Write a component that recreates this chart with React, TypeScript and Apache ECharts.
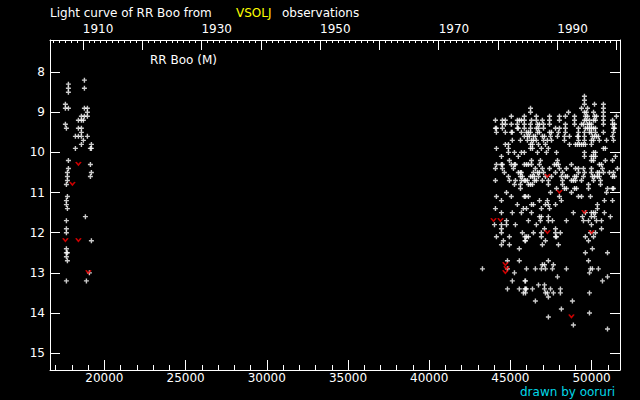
import React, { useEffect, useRef } from "react";
import * as echarts from "echarts";

// ---- axis ranges & ticks (JD - 2400000, magnitude) ----
const X_MIN = 16650;
const X_MAX = 51750;
const Y_MIN = 7.2;
const Y_MAX = 15.42;
const jdMajorTicks = [20000, 25000, 30000, 35000, 40000, 45000, 50000];
const jdMinorTicks = [17000, 18000, 19000, 21000, 22000, 23000, 24000, 26000, 27000, 28000, 29000, 31000, 32000, 33000, 34000, 36000, 37000, 38000, 39000, 41000, 42000, 43000, 44000, 46000, 47000, 48000, 49000, 51000];
const yearMajorTicks = [1910, 1920, 1930, 1940, 1950, 1960, 1970, 1980, 1990, 2000];
const yearLabels = [1910, 1930, 1950, 1970, 1990];
const magTicks = [8, 9, 10, 11, 12, 13, 14, 15];

// ---- observations: early visual estimates [JD-2400000, mag] ----
const earlyObs: number[][] = [
  [18769, 8.2], [17783, 8.3], [17783, 8.4], [17783, 8.5], [18769, 8.4], [17598, 8.8], [17598, 8.9], [17783, 8.9],
  [18769, 8.9], [18953, 8.9], [18953, 9.0], [18584, 9.1], [18769, 9.1], [18953, 9.1], [18399, 9.2], [18584, 9.2],
  [18707, 9.2], [17598, 9.3], [17660, 9.4], [18399, 9.4], [18584, 9.4], [18584, 9.5], [18214, 9.6], [18399, 9.6],
  [18584, 9.6], [18953, 9.6], [18707, 9.7], [19199, 9.8], [18584, 9.8], [18214, 9.9], [19137, 9.9], [19199, 9.9],
  [17783, 10.2], [19138, 10.3], [17783, 10.4], [19199, 10.5], [17722, 10.5], [17722, 10.6], [19138, 10.6], [17722, 10.7],
  [17660, 10.8], [17722, 11.1], [17660, 11.2], [17660, 11.3], [17722, 11.4], [18830, 11.6], [17660, 11.7], [17660, 11.9],
  [17660, 12.0], [19199, 12.2], [17660, 12.4], [17660, 12.5], [17722, 12.5], [17660, 12.6], [17722, 12.7], [19076, 13.0],
  [17660, 13.2], [18892, 13.2],
];

// ---- observations: recent visual estimates [JD-2400000, mag] ----
const recentObs: number[][] = [
  [45060, 9.1], [45860, 9.1], [44080, 9.2], [44510, 9.2], [44690, 9.2], [45430, 9.2], [45550, 9.2], [45680, 9.2], [45860, 9.2],
  [44510, 9.3], [44690, 9.3], [45060, 9.3], [45430, 9.3], [45860, 9.3], [44080, 9.4], [44140, 9.4], [44510, 9.4], [45430, 9.4],
  [45490, 9.4], [45860, 9.4], [44140, 9.5], [44690, 9.5], [45060, 9.5], [45120, 9.5], [45680, 9.5], [45860, 9.6], [45120, 9.7],
  [45620, 9.7], [44690, 9.8], [44880, 9.8], [44140, 9.9], [44880, 9.9], [44880, 10.0], [45250, 10.0], [45680, 10.0], [45860, 10.0],
  [44450, 10.1], [45490, 10.1], [44940, 10.2], [44140, 10.3], [44450, 10.3], [44510, 10.3], [45060, 10.3], [45250, 10.3],
  [45310, 10.3], [45860, 10.3], [44080, 10.4], [44510, 10.4], [45190, 10.4], [44630, 10.5], [45490, 10.5], [45620, 10.5],
  [45680, 10.5], [44880, 10.6], [45620, 10.6], [45740, 10.6], [44080, 10.7], [44940, 10.7], [45310, 10.7], [45680, 10.7],
  [45860, 10.7], [45250, 10.8], [45620, 10.8], [45620, 10.9], [44760, 11.0], [44140, 11.1], [45060, 11.1], [45860, 11.1],
  [44450, 11.2], [45430, 11.3],
  [46240, 8.9], [46240, 9.0], [48580, 9.0],
  [46600, 9.1], [47410, 9.1], [48020, 9.1], [48390, 9.1],
  [46300, 9.2], [46600, 9.2], [46970, 9.2], [47410, 9.2], [48020, 9.2],
  [46240, 9.3], [46670, 9.3], [46790, 9.3], [47040, 9.3], [47410, 9.3], [48390, 9.3],
  [46240, 9.4], [46600, 9.4], [46730, 9.4], [47040, 9.4], [47780, 9.4], [48020, 9.4], [48390, 9.4],
  [45990, 9.5], [46110, 9.5], [46240, 9.5], [46670, 9.5], [46790, 9.5], [47410, 9.5], [47530, 9.5], [47960, 9.5], [48390, 9.5],
  [46050, 9.6], [46170, 9.6], [46420, 9.6], [46540, 9.6], [46970, 9.6], [47100, 9.6], [47470, 9.6], [47900, 9.6], [48330, 9.6], [48640, 9.6],
  [46050, 9.7], [46300, 9.7], [46420, 9.7], [46600, 9.7], [47040, 9.7], [47280, 9.7], [47530, 9.7], [48330, 9.7],
  [46240, 9.8], [46360, 9.8], [46730, 9.8], [47160, 9.8], [48640, 9.8],
  [46240, 9.9], [46360, 9.9], [46910, 9.9], [47340, 9.9],
  [46670, 10.0], [47220, 10.0], [47840, 10.0],
  [46300, 10.2], [46850, 10.2], [47900, 10.2],
  [45990, 10.3], [46110, 10.3], [46300, 10.3], [46790, 10.3], [47710, 10.3], [47840, 10.3], [47960, 10.3], [48760, 10.3],
  [46540, 10.4], [46970, 10.4], [47410, 10.4], [48020, 10.4], [48450, 10.4],
  [46420, 10.5], [46670, 10.5], [46790, 10.5], [47040, 10.5], [47780, 10.5], [48210, 10.5],
  [46240, 10.6], [46360, 10.6], [46480, 10.6], [46730, 10.6], [47160, 10.6], [47530, 10.6], [48140, 10.6], [48390, 10.6], [48510, 10.6],
  [45930, 10.7], [46050, 10.7], [46480, 10.7], [46600, 10.7], [46970, 10.7], [47340, 10.7], [48210, 10.7], [48760, 10.7],
  [46110, 10.8], [46240, 10.8], [46360, 10.8], [47340, 10.8], [48210, 10.8],
  [47840, 10.9], [48330, 10.9], [48450, 10.9],
  [47470, 11.0], [48760, 11.0],
  [45930, 11.1], [46110, 11.1], [48020, 11.1],
  [46790, 11.2], [47280, 11.2], [48140, 11.2],
  [46300, 11.3], [46420, 11.3], [47160, 11.3], [47340, 11.3], [47780, 11.3],
  [49560, 8.6], [49560, 8.7], [49560, 8.8], [50180, 8.8], [50730, 8.8],
  [49380, 8.9], [49750, 8.9], [50730, 8.9],
  [49560, 9.0], [49680, 9.0], [50120, 9.0], [50730, 9.0],
  [48950, 9.1], [49620, 9.1], [49750, 9.1], [50180, 9.1], [50300, 9.1], [50730, 9.1], [51530, 9.1],
  [48950, 9.2], [49560, 9.2], [49680, 9.2], [49870, 9.2], [50120, 9.2], [50240, 9.2], [50730, 9.2], [51290, 9.2],
  [48950, 9.3], [49380, 9.3], [49500, 9.3], [49750, 9.3], [49870, 9.3], [49990, 9.3], [50730, 9.3], [51290, 9.3], [51410, 9.3],
  [49190, 9.4], [49620, 9.4], [49750, 9.4], [49870, 9.4], [49990, 9.4], [50120, 9.4], [50240, 9.4], [51350, 9.4], [51410, 9.4],
  [49190, 9.5], [49560, 9.5], [49870, 9.5], [49990, 9.5], [50240, 9.5], [50730, 9.5], [51350, 9.5],
  [49130, 9.6], [49190, 9.6], [49560, 9.6], [50050, 9.6], [50180, 9.6], [50300, 9.6], [50420, 9.6], [51290, 9.6],
  [49190, 9.7], [49560, 9.7], [49990, 9.7], [50120, 9.7], [50480, 9.7], [50920, 9.7], [51350, 9.7],
  [49010, 9.8], [49130, 9.8], [49250, 9.8], [49380, 9.8], [49500, 9.8], [49620, 9.8], [49990, 9.8],
  [50730, 9.9], [50850, 9.9],
  [49560, 10.0], [50120, 10.0], [50240, 10.0],
  [49560, 10.1], [49990, 10.1], [50120, 10.1], [50240, 10.1], [51470, 10.1],
  [49990, 10.2], [50120, 10.2], [50850, 10.2], [51290, 10.2],
  [50480, 10.3], [50610, 10.3],
  [49010, 10.4], [49190, 10.4], [49500, 10.4], [49990, 10.4], [50670, 10.4], [51590, 10.4],
  [49190, 10.5], [49560, 10.5], [49990, 10.5], [50360, 10.5], [50480, 10.5], [50730, 10.5], [51100, 10.5], [51350, 10.5],
  [48950, 10.6], [49070, 10.6], [49500, 10.6], [50050, 10.6], [50180, 10.6], [50360, 10.6], [50480, 10.6], [51290, 10.6], [51410, 10.6],
  [48880, 10.7], [49010, 10.7], [49380, 10.7], [50120, 10.7], [50550, 10.7],
  [49810, 10.8], [50550, 10.8],
  [48950, 10.9], [49070, 10.9], [49810, 10.9], [50980, 10.9], [51290, 10.9], [51350, 10.9],
  [50920, 11.0], [49190, 11.1], [49380, 11.1], [49930, 11.1], [50790, 11.2], [51290, 11.2], [50360, 11.3],
  [44080, 11.4], [45800, 11.4], [44450, 11.5], [45120, 11.5], [45680, 11.5], [44760, 11.7], [44020, 11.8], [44450, 11.8],
  [44760, 11.8], [45310, 11.8], [44450, 11.9], [44450, 12.0], [45740, 12.0], [44140, 12.1], [44940, 12.1], [45900, 12.1],
  [44570, 12.2], [45900, 12.2], [44450, 12.3], [44940, 12.3], [45550, 12.4], [44820, 12.7], [45550, 12.7], [44820, 12.9],
  [43280, 12.9], [45250, 13.0], [45120, 13.2], [45900, 13.2], [44820, 13.4], [45550, 13.4], [45900, 13.4], [45800, 13.5],
  [45990, 11.4], [46910, 11.4], [47410, 11.4], [46300, 11.5], [48880, 11.5], [46790, 11.6], [46910, 11.6], [47340, 11.6],
  [46110, 11.7], [46850, 11.7], [47340, 11.7], [47590, 11.7], [48450, 11.7], [46600, 11.8], [47100, 11.9], [47780, 11.9],
  [46420, 12.0], [46910, 12.0], [47780, 12.0], [48080, 12.0], [45990, 12.1], [46110, 12.1], [46910, 12.1], [47780, 12.1],
  [47840, 12.1], [45930, 12.2], [47160, 12.2], [46970, 12.3], [47960, 12.3], [47340, 12.7], [46970, 12.8], [47100, 12.8],
  [47650, 12.8], [45990, 12.9], [46540, 12.9], [46910, 12.9], [47160, 12.9], [47590, 12.9], [48450, 12.9], [47900, 13.1],
  [45930, 13.2], [46730, 13.3], [47100, 13.3], [45930, 13.4], [45990, 13.4], [46360, 13.4], [47100, 13.4], [47470, 13.4],
  [48080, 13.4], [45930, 13.5], [47160, 13.5], [47280, 13.5], [47650, 13.5], [48080, 13.5], [47340, 13.6], [46540, 13.7],
  [48820, 13.7], [48140, 13.9], [47340, 14.1], [48880, 14.3],
  [50360, 11.4], [49620, 11.5], [49990, 11.5], [50120, 11.5], [50240, 11.5], [50790, 11.5], [49440, 11.6], [49990, 11.6],
  [50180, 11.6], [51160, 11.6], [49500, 11.7], [49810, 11.7], [50300, 11.7], [50610, 11.7], [49990, 11.8], [50610, 11.9],
  [49930, 12.0], [50240, 12.0], [49620, 12.1], [50120, 12.1], [49810, 12.2], [50050, 12.4], [49620, 12.5], [50980, 12.5],
  [49810, 12.7], [49930, 12.9], [50050, 12.9], [50420, 12.9], [49870, 13.0], [50980, 13.1], [50670, 13.2], [49870, 13.5],
  [49870, 14.0], [50980, 14.4],
];

// ---- fainter-than estimates [JD-2400000, mag] ----
const fainterThan: number[][] = [
  [18399, 10.3], [18030, 10.8], [17598, 12.2], [18399, 12.2], [19015, 13.0],
  [43960, 11.7], [44390, 11.7], [44690, 12.8], [44760, 12.9], [44690, 13.0],
  [47280, 10.6], [48020, 11.0], [47280, 12.0], [48760, 14.1], [49560, 11.5], [49990, 12.0],
];

const yearToJd = (y: number) => 51544.5 + (y - 2000) * 365.25;
const jdToYear = (jd: number) => Math.round(2000 + (jd - 51544.5) / 365.25);
const yearMinorTicks: number[] = [];
for (let y = 1905; y <= 2000; y++) yearMinorTicks.push(y);

const FONT = "DejaVu Sans";
const PLUS = "path://M1.8,0L3.2,0L3.2,5L1.8,5Z M0,1.8L5,1.8L5,3.2L0,3.2Z";
const VEE = "path://M0,0L2.5,3L5,0";

export default function App() {
  const ref = useRef<HTMLDivElement>(null);
  useEffect(() => {
    if (!ref.current) return;
    const chart = echarts.init(ref.current, null, { renderer: "svg" });
    const line = { show: true, lineStyle: { color: "#ffffff", width: 1 } };
    const noLine = { show: false };
    const lbl = { color: "#ffffff", fontFamily: FONT, fontSize: 12 };
    chart.setOption({
      animation: false,
      backgroundColor: "#000000",
      grid: { left: 50, top: 40, width: 570, height: 330, show: false },
      graphic: [
        { type: "text", left: 50, top: 7, style: { text: "Light curve of RR Boo from", fill: "#ffffff", font: `12px '${FONT}'` } },
        { type: "text", left: 236, top: 7, style: { text: "VSOLJ", fill: "#ffff00", font: `12px '${FONT}'` } },
        { type: "text", left: 282, top: 7, style: { text: "observations", fill: "#ffffff", font: `12px '${FONT}'` } },
        { type: "text", left: 150, top: 54, style: { text: "RR Boo (M)", fill: "#ffffff", font: `12px '${FONT}'` } },
        { type: "text", left: 520, top: 386, style: { text: "drawn by ooruri", fill: "#00d8e8", font: `12px '${FONT}'` } },
      ],
      xAxis: [
        {
          type: "value", min: X_MIN, max: X_MAX, position: "bottom", splitLine: { show: false },
          axisLine: line,
          axisTick: { show: true, inside: true, length: 10, customValues: jdMajorTicks, lineStyle: { color: "#ffffff" } },
          axisLabel: { ...lbl, margin: 2, customValues: jdMajorTicks, formatter: (v: number) => String(v) },
        },
        {
          type: "value", min: X_MIN, max: X_MAX, position: "bottom", splitLine: { show: false },
          axisLine: noLine,
          axisTick: { show: true, inside: true, length: 5, customValues: jdMinorTicks, lineStyle: { color: "#ffffff" } },
          axisLabel: { show: false },
        },
        {
          type: "value", min: X_MIN, max: X_MAX, position: "top", splitLine: { show: false },
          axisLine: line,
          axisTick: { show: true, inside: true, length: 10, customValues: yearMajorTicks.map(yearToJd), lineStyle: { color: "#ffffff" } },
          axisLabel: { ...lbl, margin: 5, align: "left", customValues: yearLabels.map(yearToJd), formatter: (v: number) => String(jdToYear(v)) },
        },
        {
          type: "value", min: X_MIN, max: X_MAX, position: "top", splitLine: { show: false },
          axisLine: noLine,
          axisTick: { show: true, inside: true, length: 3, customValues: yearMinorTicks.map(yearToJd), lineStyle: { color: "#ffffff" } },
          axisLabel: { show: false },
        },
      ],
      yAxis: [
        {
          type: "value", min: Y_MIN, max: Y_MAX, inverse: true, position: "left", splitLine: { show: false },
          axisLine: line,
          axisTick: { show: true, inside: true, length: 10, customValues: magTicks, lineStyle: { color: "#ffffff" } },
          axisLabel: { ...lbl, margin: 5, customValues: magTicks },
        },
        {
          type: "value", min: Y_MIN, max: Y_MAX, inverse: true, position: "right", splitLine: { show: false },
          axisLine: line,
          axisTick: { show: true, inside: true, length: 10, customValues: magTicks, lineStyle: { color: "#ffffff" } },
          axisLabel: { show: false },
        },
      ],
      series: [
        {
          type: "scatter", name: "early", data: earlyObs, xAxisIndex: 0, yAxisIndex: 0,
          symbol: PLUS, symbolSize: 5, itemStyle: { color: "#ffffff" }, silent: true,
        },
        {
          type: "scatter", name: "recent", data: recentObs, xAxisIndex: 0, yAxisIndex: 0,
          symbol: PLUS, symbolSize: 5, itemStyle: { color: "#ffffff" }, silent: true,
        },
        {
          type: "scatter", name: "fainter", data: fainterThan, xAxisIndex: 0, yAxisIndex: 0,
          symbol: VEE, symbolSize: [5, 3], symbolOffset: [0, -1],
          itemStyle: { color: "transparent", borderColor: "#ff0000", borderWidth: 1.4 }, silent: true,
        },
      ],
    });
    return () => chart.dispose();
  }, []);
  return <div ref={ref} style={{ position: "fixed", left: 0, top: 0, width: 640, height: 400 }} />;
}
